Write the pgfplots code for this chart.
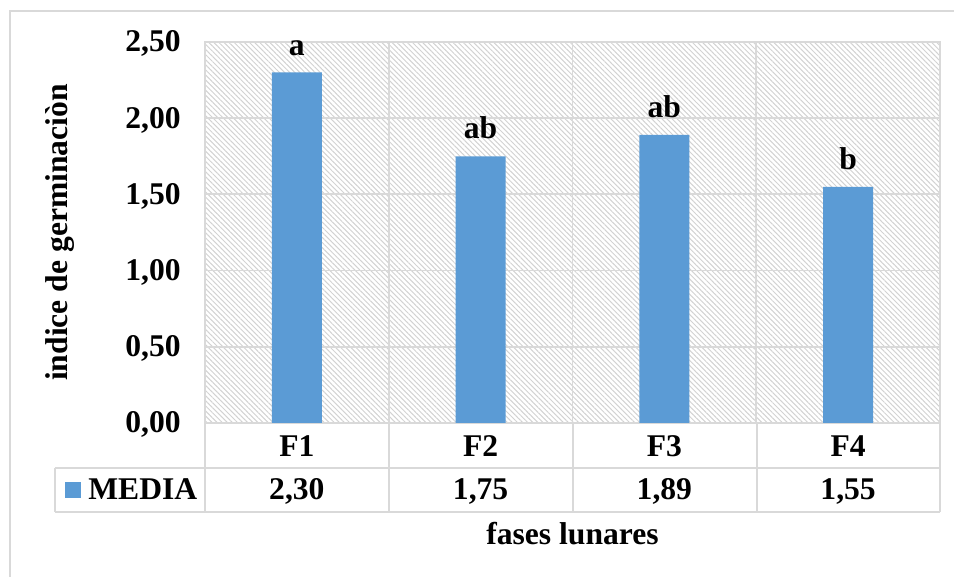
\documentclass[border=0pt]{standalone}
\usepackage{fontspec}
\setmainfont{Liberation Serif}
\usepackage{pgfplots}
\usepackage{pgfplotstable}
\pgfplotsset{compat=1.18}
\usetikzlibrary{patterns.meta}
\definecolor{barblue}{HTML}{5B9BD5}
\definecolor{gridgray}{HTML}{D9D9D9}
\definecolor{hatchgray}{HTML}{D2D2D2}
\newcommand{\fnt}{\fontsize{15.8}{19}\selectfont\bfseries}
\pgfplotstableread{
x y lab
0 2.30 a
1 1.75 ab
2 1.89 ab
3 1.55 b
}\data
\begin{document}
\begin{tikzpicture}[font=\fnt]
\useasboundingbox (-102.5pt,-77pt) rectangle (374.5pt,211.5pt);
% outer chart frame
\draw[gridgray, line width=0.8pt] ({(10-205)*0.5pt},{(423-580)*0.5pt}) -- ({(10-205)*0.5pt},{(423-11)*0.5pt}) -- ({(960-205)*0.5pt},{(423-11)*0.5pt});
\begin{axis}[
  at={(0,0)}, anchor=south west,
  scale only axis, width=367.5pt, height=190.5pt,
  xmin=-0.5, xmax=3.5, ymin=0, ymax=2.5,
  xtick={0,1,2,3}, xticklabels={F1,F2,F3,F4},
  minor xtick={0.5,1.5,2.5},
  ytick={0,0.5,1,1.5,2,2.5},
  ymajorgrids, xminorgrids,
  major tick length=0pt, minor tick length=0pt,
  grid style={gridgray, line width=0.9pt},
  minor grid style={gridgray, line width=0.9pt},
  axis line style={gridgray, line width=0.9pt},
  axis background/.style={pattern={Lines[angle=-45,distance=1.8pt,line width=0.5pt]}, pattern color=hatchgray},
  /pgf/number format/assume math mode=true,
  yticklabel style={font=\fnt, anchor=base east, yshift=-5pt, xshift=-8.6pt,
    /pgf/number format/.cd, fixed, fixed zerofill, precision=2, use comma},
  xticklabel style={font=\fnt, anchor=base, yshift=-17pt},
  ylabel={indice de germinaciòn},
  xlabel={fases lunares},
  every axis y label/.style={at={(axis description cs:-0.197,0.5)}, rotate=90, anchor=center, font=\fnt},
  every axis x label/.style={at={(axis description cs:0.5,-0.3202)}, anchor=base, font=\fnt},
  clip=false,
]
\addplot[ybar, bar width=25pt, fill=barblue, draw=none,
  nodes near coords, point meta=explicit symbolic,
  every node near coord/.style={font=\fnt, anchor=south, yshift=5pt}]
  table[x=x, y=y, meta=lab]{\data};
\addplot[draw=none, mark=none,
  nodes near coords={\pgfmathprintnumber[fixed,fixed zerofill,precision=2,use comma]{\pgfplotspointmeta}},
  point meta=\thisrow{y},
  every node near coord/.style={font=\fnt, anchor=base}]
  table[x=x, y expr=-0.5052]{\data};
\end{axis}
% data table lines
\begin{scope}[gridgray, line width=0.9pt]
\draw ({(55-205)*0.5pt},{(423-468)*0.5pt}) -- ({(940-205)*0.5pt},{(423-468)*0.5pt});
\draw ({(55-205)*0.5pt},{(423-512)*0.5pt}) -- ({(940-205)*0.5pt},{(423-512)*0.5pt});
\draw ({(55-205)*0.5pt},{(423-468)*0.5pt}) -- ({(55-205)*0.5pt},{(423-512)*0.5pt});
\foreach \xx in {205,389,573,757,940}{
  \draw ({(\xx-205)*0.5pt},0pt) -- ({(\xx-205)*0.5pt},{(423-512)*0.5pt});
}
\end{scope}
% legend key
\fill[barblue] ({(65-205)*0.5pt},{(423-482)*0.5pt}) rectangle ({(81-205)*0.5pt},{(423-498)*0.5pt});
\node[anchor=base west, inner sep=0pt, font=\fnt] at ({(88-205)*0.5pt},{(423-500)*0.5pt}) {MEDIA};
\end{tikzpicture}
\end{document}
